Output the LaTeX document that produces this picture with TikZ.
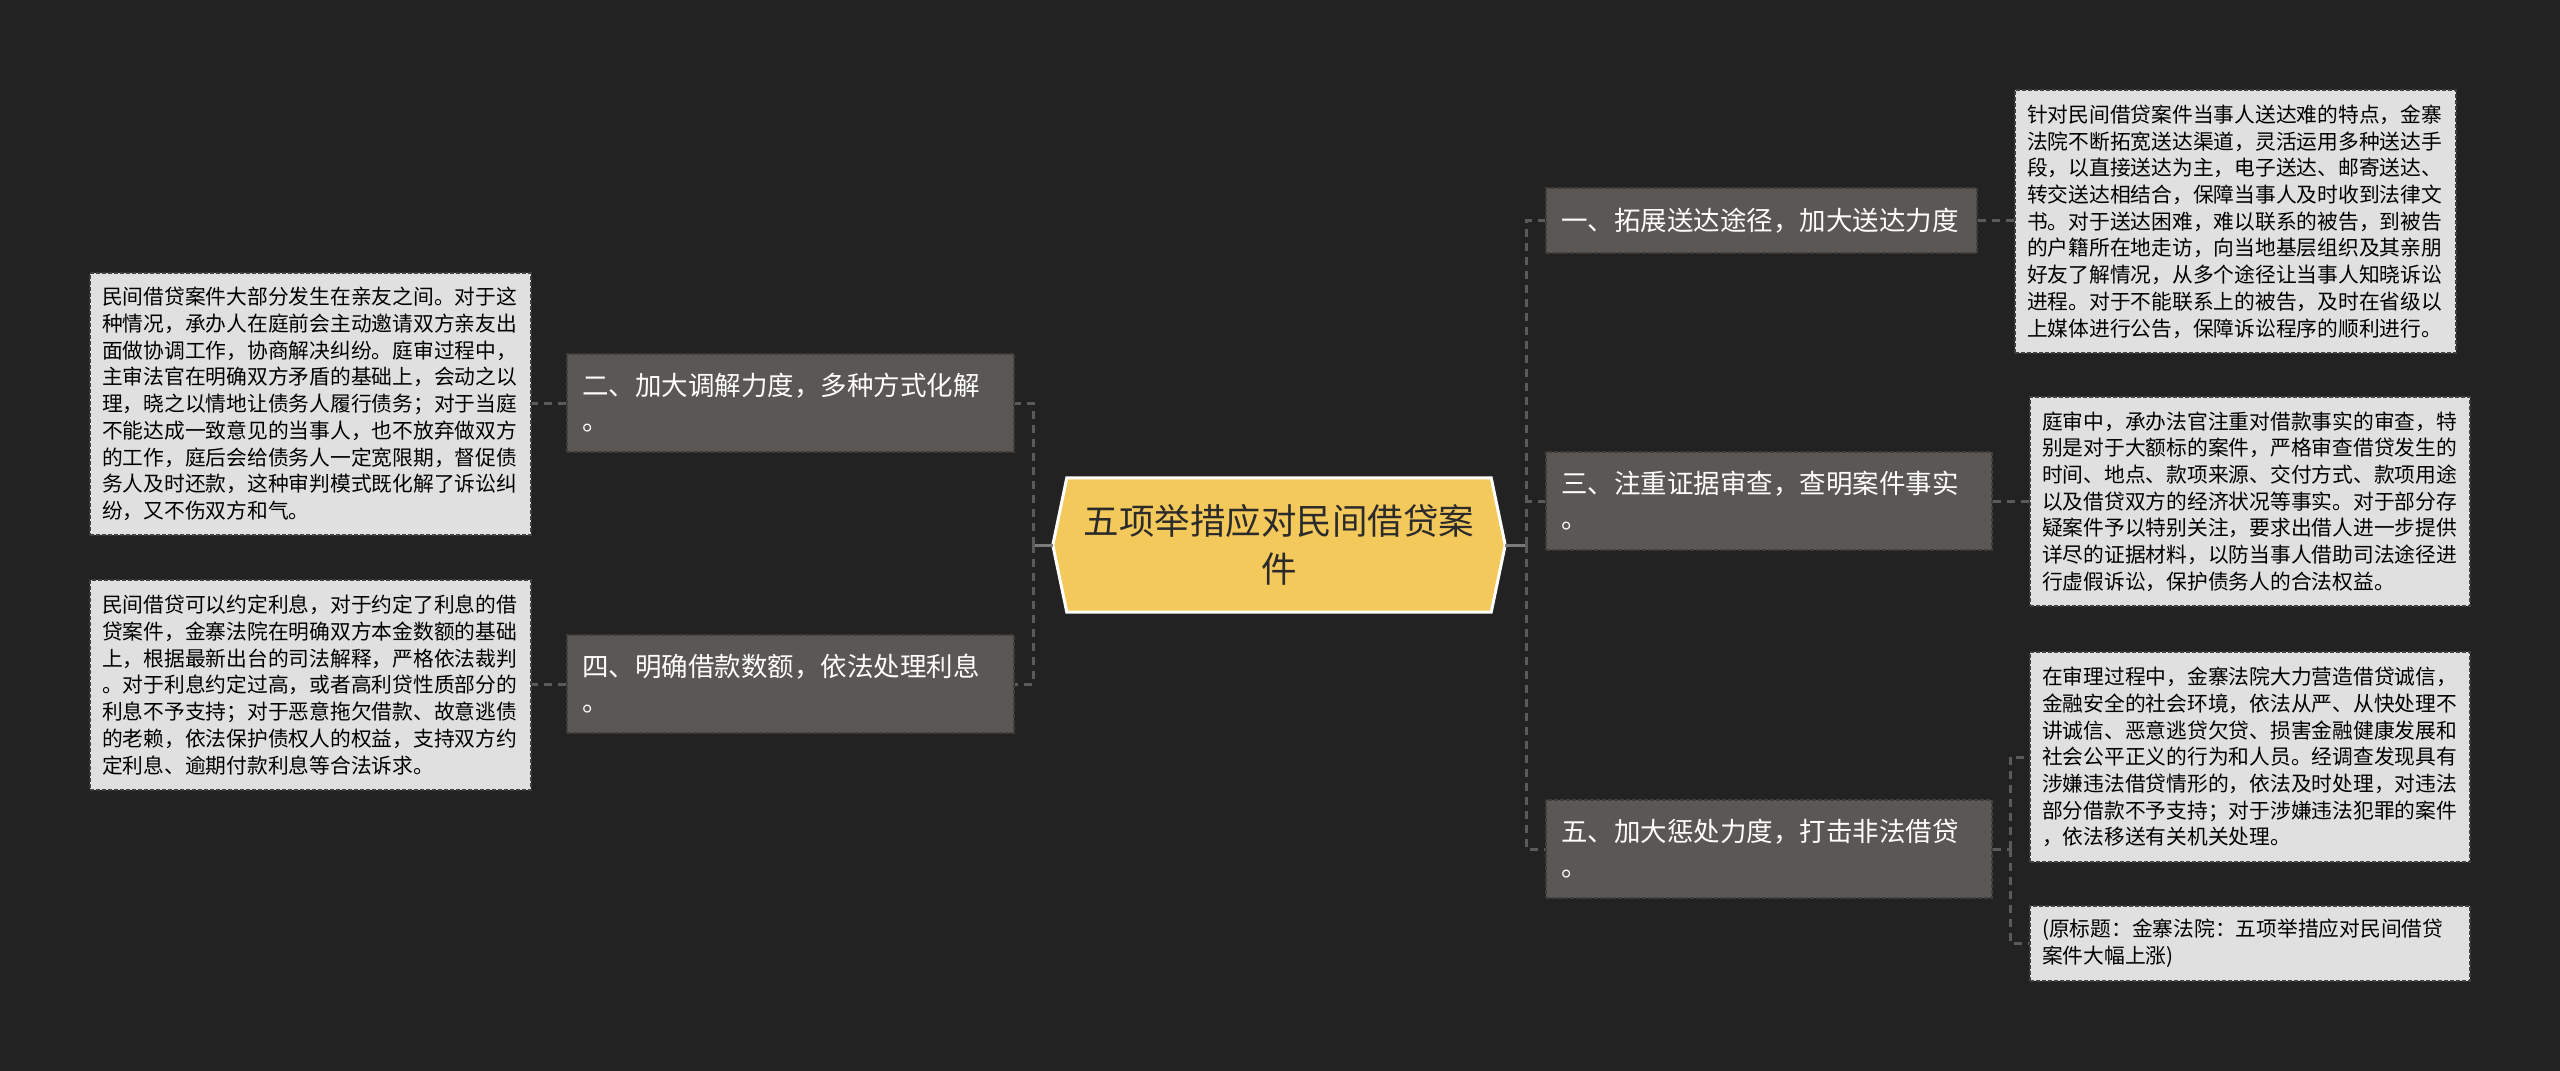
\documentclass[tikz,border=0pt]{standalone}
\usepackage{fontspec}
\setmainfont{Noto Sans CJK SC}
\usetikzlibrary{calc}
\definecolor{bg}{HTML}{222222}
\definecolor{branchfill}{HTML}{5A5754}
\definecolor{branchline}{HTML}{403E3C}
\definecolor{leaffill}{HTML}{E0E0E0}
\definecolor{leafline}{HTML}{404040}
\definecolor{connc}{HTML}{5A5A5A}
\definecolor{stubc}{HTML}{7A7A7A}
\definecolor{centerfill}{HTML}{F4C95B}
\definecolor{centertext}{HTML}{2B2B2B}
\tikzset{
  leaf/.style={draw=leafline, fill=leaffill, line width=1.5pt, dash pattern=on 4pt off 2pt,
    text=black, align=left, inner xsep=12pt, inner ysep=0pt,
    font=\fontsize{20.75}{26.7}\selectfont},
  branch/.style={draw=branchline, fill=branchfill, line width=1.5pt, dash pattern=on 4pt off 2pt,
    text=white, align=left, inner xsep=15pt, inner ysep=0pt,
    font=\fontsize{26.5}{35}\selectfont},
  conn/.style={draw=connc, line width=3pt, dash pattern=on 8pt off 6pt},
  stub/.style={draw=stubc, line width=3pt},
}
\begin{document}
\begin{tikzpicture}[x=1pt,y=-1pt]
\fill[bg] (0,0) rectangle (2560,1071);
\useasboundingbox (0,0) rectangle (2560,1071);

% center
\node[minimum width=452pt, minimum height=134pt, inner sep=0pt] (c) at (1279,545) {};
\draw[fill=centerfill, draw=white, line width=3pt, line join=miter]
  (c.west) -- ([xshift=14pt]c.north west) -- ([xshift=-14pt]c.north east) -- (c.east)
  -- ([xshift=-14pt]c.south east) -- ([xshift=14pt]c.south west) -- cycle;
\node[text=centertext, align=center, font=\fontsize{35.5}{48}\selectfont] (ct) at (c.center)
  {五项举措应对民间借贷案\\件};

% branches
\node[branch, text width=417pt, minimum height=98pt] (b2) at (790.5,403)
  {二、加大调解力度，多种方式化解\\。};
\node[branch, text width=417pt, minimum height=98pt] (b4) at (790.5,684)
  {四、明确借款数额，依法处理利息\\。};
\node[branch, text width=401pt, minimum height=65pt] (b1) at (1761.5,220.5)
  {一、拓展送达途径，加大送达力度};
\node[branch, text width=416pt, minimum height=98pt] (b3) at (1769,501)
  {三、注重证据审查，查明案件事实\\。};
\node[branch, text width=416pt, minimum height=98pt] (b5) at (1769,849)
  {五、加大惩处力度，打击非法借贷\\。};

% leaves
\node[leaf, text width=417pt, minimum height=262pt] (l1) at (310.5,404)
  {民间借贷案件大部分发生在亲友之间。对于这\\
   种情况，承办人在庭前会主动邀请双方亲友出\\
   面做协调工作，协商解决纠纷。庭审过程中，\\
   主审法官在明确双方矛盾的基础上，会动之以\\
   理，晓之以情地让债务人履行债务；对于当庭\\
   不能达成一致意见的当事人，也不放弃做双方\\
   的工作，庭后会给债务人一定宽限期，督促债\\
   务人及时还款，这种审判模式既化解了诉讼纠\\
   纷，又不伤双方和气。};
\node[leaf, text width=417pt, minimum height=210pt] (l2) at (310.5,685)
  {民间借贷可以约定利息，对于约定了利息的借\\
   贷案件，金寨法院在明确双方本金数额的基础\\
   上，根据最新出台的司法解释，严格依法裁判\\
   。对于利息约定过高，或者高利贷性质部分的\\
   利息不予支持；对于恶意拖欠借款、故意逃债\\
   的老赖，依法保护债权人的权益，支持双方约\\
   定利息、逾期付款利息等合法诉求。};
\node[leaf, text width=417pt, minimum height=263pt] (r1) at (2235.5,221.5)
  {针对民间借贷案件当事人送达难的特点，金寨\\
   法院不断拓宽送达渠道，灵活运用多种送达手\\
   段，以直接送达为主，电子送达、邮寄送达、\\
   转交送达相结合，保障当事人及时收到法律文\\
   书。对于送达困难，难以联系的被告，到被告\\
   的户籍所在地走访，向当地基层组织及其亲朋\\
   好友了解情况，从多个途径让当事人知晓诉讼\\
   进程。对于不能联系上的被告，及时在省级以\\
   上媒体进行公告，保障诉讼程序的顺利进行。};
\node[leaf, text width=416pt, minimum height=209pt] (r2) at (2250,501.5)
  {庭审中，承办法官注重对借款事实的审查，特\\
   别是对于大额标的案件，严格审查借贷发生的\\
   时间、地点、款项来源、交付方式、款项用途\\
   以及借贷双方的经济状况等事实。对于部分存\\
   疑案件予以特别关注，要求出借人进一步提供\\
   详尽的证据材料，以防当事人借助司法途径进\\
   行虚假诉讼，保护债务人的合法权益。};
\node[leaf, text width=416pt, minimum height=210pt] (r3) at (2250,757)
  {在审理过程中，金寨法院大力营造借贷诚信，\\
   金融安全的社会环境，依法从严、从快处理不\\
   讲诚信、恶意逃贷欠贷、损害金融健康发展和\\
   社会公平正义的行为和人员。经调查发现具有\\
   涉嫌违法借贷情形的，依法及时处理，对违法\\
   部分借款不予支持；对于涉嫌违法犯罪的案件\\
   ，依法移送有关机关处理。};
\node[leaf, text width=416pt, minimum height=75pt] (r4) at (2250,943.5)
  {(原标题：金寨法院：五项举措应对民间借贷\\
   案件大幅上涨)};

% connectors
\coordinate (jl) at (1033,545);
\coordinate (jr) at (1526,545);
\coordinate (j5) at (2010,849);
\draw[stub] (c.west) -- (jl);
\draw[stub] (c.east) -- (jr);
\draw[conn] (jl) |- (b2.east);
\draw[conn] (jl) |- (b4.east);
\draw[conn] (jr) |- (b1.west);
\draw[conn] (jr) |- (b3.west);
\draw[conn] (jr) |- (b5.west);
\draw[conn] (b2.west) -- (l1.east |- b2.west);
\draw[conn] (b4.west) -- (l2.east |- b4.west);
\draw[conn] (b1.east) -- (r1.west |- b1.east);
\draw[conn] (b3.east) -- (r2.west |- b3.east);
\draw[conn] (b5.east) -- (j5);
\draw[conn] (j5) |- (r3.west);
\draw[conn] (j5) |- (r4.west);
\end{tikzpicture}
\end{document}
